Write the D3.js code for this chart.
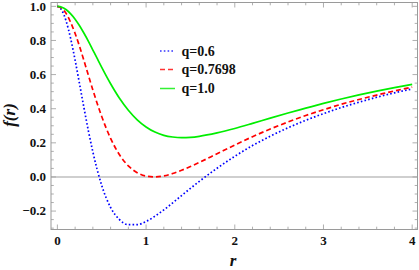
<!DOCTYPE html>
<html>
<head>
<meta charset="utf-8">
<script src="https://cdn.jsdelivr.net/npm/d3@7"></script>
<style>
html,body{margin:0;padding:0;background:#fff;}
svg{display:block;}
</style>
</head>
<body>
<svg id="c" width="419" height="270"></svg>
<script>
// Data
const rValues = [0,0.05,0.1,0.15,0.2,0.25,0.3,0.35,0.4,0.45,0.5,0.6,0.7,0.8,0.9,1.0,1.1,1.2,1.3,1.4,1.5,1.6,1.8,2.0,2.2,2.4,2.6,2.8,3.0,3.2,3.4,3.6,3.8,4.0];
const fq06 = [1,0.977,0.911,0.810,0.684,0.545,0.404,0.269,0.147,0.040,-0.050,-0.179,-0.250,-0.280,-0.280,-0.261,-0.230,-0.193,-0.152,-0.109,-0.067,-0.026,0.051,0.121,0.184,0.239,0.288,0.332,0.371,0.407,0.438,0.467,0.493,0.516];
const fq07698 = [1,0.989,0.957,0.905,0.841,0.765,0.681,0.595,0.510,0.429,0.354,0.226,0.130,0.065,0.025,0.005,0.000,0.006,0.020,0.039,0.061,0.085,0.136,0.187,0.236,0.281,0.322,0.360,0.394,0.426,0.454,0.480,0.504,0.527];
const fq10 = [1,0.995,0.980,0.956,0.925,0.886,0.842,0.795,0.744,0.693,0.642,0.546,0.461,0.391,0.335,0.293,0.263,0.244,0.234,0.230,0.232,0.238,0.258,0.284,0.314,0.345,0.375,0.403,0.431,0.457,0.481,0.503,0.524,0.543];
const seriesNames = ["q=0.6","q=0.7698","q=1.0"];
const xTicks = [0,1,2,3,4];
const yTicks = [-0.2,0.0,0.2,0.4,0.6,0.8,1.0];
const yTickLabels = ["\u22120.2","0.0","0.2","0.4","0.6","0.8","1.0"];

const FONT = "Liberation Serif";
const svg = d3.select("#c");
const L = 51, R = 417.5, T = 2.5, B = 229.5;
const x = d3.scaleLinear().domain([-0.072, 4.06]).range([L, R]);
const y = d3.scaleLinear().domain([-0.308, 1.0225]).range([B, T]);

const frameColor = "#9a9a9a";
const xMinor = d3.range(0, 4.01, 0.2).filter(v => Math.abs(v - Math.round(v)) > 1e-6);
const yMinor = d3.range(-0.3, 1.01, 0.05).filter(v => Math.abs(v*5 - Math.round(v*5)) > 1e-6);
const g = svg.append("g");
function hTick(v, len) {
  g.append("line").attr("x1", x(v)).attr("x2", x(v)).attr("y1", B).attr("y2", B - len).attr("stroke", frameColor).attr("stroke-width", 0.8);
  g.append("line").attr("x1", x(v)).attr("x2", x(v)).attr("y1", T).attr("y2", T + len).attr("stroke", frameColor).attr("stroke-width", 0.8);
}
function vTick(v, len) {
  g.append("line").attr("y1", y(v)).attr("y2", y(v)).attr("x1", L).attr("x2", L + len).attr("stroke", frameColor).attr("stroke-width", 0.8);
  g.append("line").attr("y1", y(v)).attr("y2", y(v)).attr("x1", R).attr("x2", R - len).attr("stroke", frameColor).attr("stroke-width", 0.8);
}
xTicks.forEach(v => hTick(v, 5));
xMinor.forEach(v => hTick(v, 2.8));
yTicks.forEach(v => vTick(v, 5));
yMinor.forEach(v => vTick(v, 2.8));

g.append("line").attr("x1", L).attr("x2", R).attr("y1", y(0)).attr("y2", y(0)).attr("stroke", "#a0a0a0").attr("stroke-width", 1.1);

g.append("rect").attr("x", L).attr("y", T).attr("width", R - L).attr("height", B - T)
  .attr("fill", "none").attr("stroke", frameColor).attr("stroke-width", 1);

svg.selectAll(".xl").data(xTicks).enter().append("text")
  .attr("x", d => x(d)).attr("y", 245).attr("text-anchor", "middle")
  .attr("font-family", FONT).attr("font-weight", "bold")
  .attr("font-size", 13).attr("fill", "#111").text(d => d);
svg.selectAll(".yl").data(yTicks).enter().append("text")
  .attr("x", 46).attr("y", d => y(d) + 4.3).attr("text-anchor", "end")
  .attr("font-family", FONT).attr("font-weight", "bold")
  .attr("font-size", 13).attr("fill", "#111").text((d, i) => yTickLabels[i]);

svg.append("text").attr("x", 233).attr("y", 266).attr("text-anchor", "middle")
  .attr("font-family", FONT).attr("font-weight", "bold").attr("font-style", "italic")
  .attr("font-size", 17).attr("fill", "#111").text("r");
svg.append("text").attr("transform", "translate(15,115) rotate(-90)").attr("text-anchor", "middle")
  .attr("font-family", FONT).attr("font-weight", "bold").attr("font-style", "italic")
  .attr("font-size", 17).attr("fill", "#111").text("f(r)");

const styles = [
  {color: "#0000ff", dash: "1.6,2.2", data: fq06},
  {color: "#ff0000", dash: "5,3", data: fq07698},
  {color: "#00ee00", dash: null, data: fq10}
];
const line = d3.line().x(d => x(d[0])).y(d => y(d[1])).curve(d3.curveMonotoneX);
svg.append("clipPath").attr("id", "clp").append("rect")
  .attr("x", L).attr("y", T).attr("width", R - L).attr("height", B - T);
styles.forEach(s => {
  svg.append("path").attr("d", line(rValues.map((r, i) => [r, s.data[i]])))
    .attr("fill", "none").attr("stroke", s.color).attr("stroke-width", 1.7)
    .attr("stroke-dasharray", s.dash).attr("clip-path", "url(#clp)");
});

const legY = [51, 69.5, 88.5];
styles.forEach((s, i) => {
  svg.append("line").attr("x1", 160).attr("x2", 175).attr("y1", legY[i]).attr("y2", legY[i])
    .attr("stroke", s.color).attr("stroke-width", 1.5).attr("stroke-dasharray", s.dash)
    .attr("stroke-opacity", 0.8);
  svg.append("text").attr("x", 181.5).attr("y", legY[i] + 4.8)
    .attr("font-family", FONT).attr("font-weight", "bold")
    .attr("font-size", 14).attr("fill", "#111").text(seriesNames[i]);
});
</script>
</body>
</html>
